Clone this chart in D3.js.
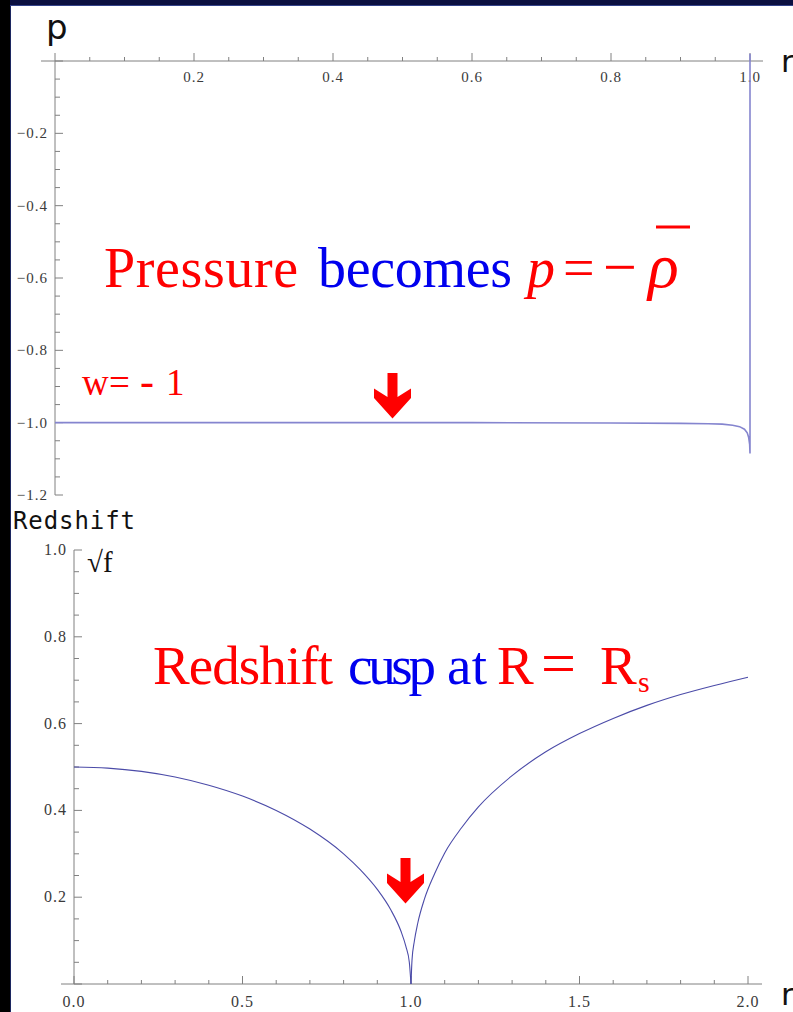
<!DOCTYPE html>
<html>
<head>
<meta charset="utf-8">
<script src="https://cdn.jsdelivr.net/npm/d3@7"></script>
<style>
  body { margin: 0; background: white; }
</style>
</head>
<body>
<div id="chart"></div>
<script>
// pressure curve, top panel (r, p)
const pressureR = [0, 0.2, 0.4, 0.6, 0.8, 0.9, 0.94, 0.96, 0.975, 0.985, 0.992, 0.996, 0.998, 0.9995, 1.0, 1.0]
const pressureP = [-1, -1, -1, -1, -1.001, -1.002, -1.003, -1.004, -1.007, -1.011, -1.018, -1.028, -1.04, -1.06, -1.085, 0.02]

// redshift curve, bottom panel (r, sqrt f), two branches meeting at the cusp
const leftR = [0, 0.1, 0.2, 0.3, 0.4, 0.5, 0.6, 0.7, 0.8, 0.85, 0.9, 0.94, 0.97, 0.985, 0.995, 1.0]
const leftF = [0.5, 0.4975, 0.49, 0.477, 0.458, 0.433, 0.4, 0.357, 0.3, 0.263, 0.218, 0.171, 0.122, 0.086, 0.05, 0]
const rightR = [1.0, 1.003, 1.01, 1.02, 1.04, 1.07, 1.1, 1.15, 1.2, 1.3, 1.4, 1.5, 1.6, 1.7, 1.8, 1.9, 2.0]
const rightF = [0, 0.055, 0.099, 0.14, 0.196, 0.254, 0.302, 0.36, 0.408, 0.48, 0.535, 0.577, 0.612, 0.642, 0.667, 0.688, 0.707]

// ticks
const topXMajor = [0.2, 0.4, 0.6, 0.8, 1.0]
const topYMajor = [-0.2, -0.4, -0.6, -0.8, -1.0, -1.2]
const botXMajor = [0, 0.5, 1.0, 1.5, 2.0]
const botYMajor = [0.2, 0.4, 0.6, 0.8, 1.0]

const width = 793
const height = 1012

const svg = d3
  .select('#chart')
  .append('svg')
  .attr('width', width)
  .attr('height', height)
  .style('display', 'block')

// slide frame
svg.append('rect').attr('x', 0).attr('y', 0).attr('width', width).attr('height', 6).attr('fill', '#0b1040')
svg.append('rect').attr('x', 0).attr('y', 5).attr('width', width).attr('height', 1).attr('fill', '#34438a')
svg.append('rect').attr('x', 0).attr('y', 0).attr('width', 10).attr('height', height).attr('fill', 'black')
svg.append('rect').attr('x', 10).attr('y', 6).attr('width', 1).attr('height', height).attr('fill', '#1c2760')

const axisColor = '#808080'
const labelColor = '#3a3a3a'
const serif = '"Liberation Serif", "DejaVu Serif", serif'

// ---------- top panel ----------
const x1 = d3.scaleLinear().domain([0, 1]).range([55, 750])
const y1 = d3.scaleLinear().domain([0, -1.2]).range([61, 495])

const topG = svg.append('g')

function ticksBetween(lo, hi, step) {
  const out = []
  const n = Math.round((hi - lo) / step)
  for (let i = 0; i <= n; i++) out.push(+(lo + i * step).toFixed(4))
  return out
}

// x axis line + ticks pointing up
topG.append('line')
  .attr('x1', 41).attr('x2', 763)
  .attr('y1', y1(0)).attr('y2', y1(0))
  .attr('stroke', axisColor)

topG.selectAll('.xt')
  .data(ticksBetween(0, 1, 0.05))
  .enter()
  .append('line')
  .attr('x1', d => x1(d)).attr('x2', d => x1(d))
  .attr('y1', y1(0))
  .attr('y2', d => y1(0) - (Math.abs(d * 5 - Math.round(d * 5)) < 1e-6 ? 8 : 4))
  .attr('stroke', axisColor)

topG.selectAll('.xl')
  .data(topXMajor)
  .enter()
  .append('text')
  .attr('x', d => x1(d))
  .attr('y', 82)
  .attr('text-anchor', 'middle')
  .attr('font-family', serif)
  .attr('font-size', 15)
  .attr('letter-spacing', 1)
  .attr('fill', labelColor)
  .text(d => d3.format('.1f')(d))

// y axis line + ticks pointing right
topG.append('line')
  .attr('x1', x1(0)).attr('x2', x1(0))
  .attr('y1', y1(0)).attr('y2', y1(-1.2))
  .attr('stroke', axisColor)

topG.selectAll('.yt')
  .data(ticksBetween(-1.2, 0, 0.05))
  .enter()
  .append('line')
  .attr('x1', x1(0))
  .attr('x2', d => x1(0) + (Math.abs(d * 5 - Math.round(d * 5)) < 1e-6 ? 8 : 5))
  .attr('y1', d => y1(d)).attr('y2', d => y1(d))
  .attr('stroke', axisColor)

topG.selectAll('.yl')
  .data(topYMajor)
  .enter()
  .append('text')
  .attr('x', 48)
  .attr('y', d => y1(d) + 5)
  .attr('text-anchor', 'end')
  .attr('font-family', serif)
  .attr('font-size', 15)
  .attr('letter-spacing', 1)
  .attr('fill', labelColor)
  .text(d => '\u2212' + d3.format('.1f')(-d))

const pressureLine = d3.line()
  .x(d => x1(d[0]))
  .y(d => y1(d[1]))

topG.append('path')
  .datum(d3.zip(pressureR, pressureP))
  .attr('d', pressureLine)
  .attr('fill', 'none')
  .attr('stroke', '#8585cf')
  .attr('stroke-width', 1.6)

topG.append('text')
  .attr('x', 46).attr('y', 39)
  .attr('font-family', '"DejaVu Sans", sans-serif')
  .attr('font-size', 34)
  .attr('fill', '#111')
  .text('p')

topG.append('text')
  .attr('x', 781).attr('y', 72)
  .attr('font-family', '"DejaVu Sans", sans-serif')
  .attr('font-size', 31)
  .attr('fill', '#111')
  .text('r')

// ---------- bottom panel ----------
const x2 = d3.scaleLinear().domain([0, 2]).range([74, 748])
const y2 = d3.scaleLinear().domain([0, 1]).range([984, 550])

const botG = svg.append('g')

botG.append('line')
  .attr('x1', 61).attr('x2', 762)
  .attr('y1', y2(0)).attr('y2', y2(0))
  .attr('stroke', axisColor)

botG.selectAll('.xt')
  .data(ticksBetween(0, 2, 0.1))
  .enter()
  .append('line')
  .attr('x1', d => x2(d)).attr('x2', d => x2(d))
  .attr('y1', y2(0))
  .attr('y2', d => y2(0) - (Math.abs(d * 2 - Math.round(d * 2)) < 1e-6 ? 8 : 4))
  .attr('stroke', axisColor)

botG.selectAll('.xl')
  .data(botXMajor)
  .enter()
  .append('text')
  .attr('x', d => x2(d))
  .attr('y', 1007)
  .attr('text-anchor', 'middle')
  .attr('font-family', serif)
  .attr('font-size', 16)
  .attr('letter-spacing', 1)
  .attr('fill', labelColor)
  .text(d => d3.format('.1f')(d))

botG.append('line')
  .attr('x1', x2(0)).attr('x2', x2(0))
  .attr('y1', y2(0)).attr('y2', y2(1))
  .attr('stroke', axisColor)

botG.selectAll('.yt')
  .data(ticksBetween(0, 1, 0.05))
  .enter()
  .append('line')
  .attr('x1', x2(0))
  .attr('x2', d => x2(0) + (Math.abs(d * 5 - Math.round(d * 5)) < 1e-6 ? 8 : 5))
  .attr('y1', d => y2(d)).attr('y2', d => y2(d))
  .attr('stroke', axisColor)

botG.selectAll('.yl')
  .data(botYMajor)
  .enter()
  .append('text')
  .attr('x', 67)
  .attr('y', d => y2(d) + 5)
  .attr('text-anchor', 'end')
  .attr('font-family', serif)
  .attr('font-size', 16)
  .attr('letter-spacing', 1)
  .attr('fill', labelColor)
  .text(d => d3.format('.1f')(d))

const redshiftLine = d3.line()
  .x(d => x2(d[0]))
  .y(d => y2(d[1]))
  .curve(d3.curveMonotoneX)

botG.selectAll('.branch')
  .data([d3.zip(leftR, leftF), d3.zip(rightR, rightF)])
  .enter()
  .append('path')
  .attr('d', redshiftLine)
  .attr('fill', 'none')
  .attr('stroke', '#4b4ba8')
  .attr('stroke-width', 1.1)

botG.append('text')
  .attr('x', 13).attr('y', 529)
  .attr('font-family', '"DejaVu Sans Mono", monospace')
  .attr('font-size', 24)
  .attr('textLength', 122)
  .attr('fill', '#111')
  .text('Redshift')

botG.append('text')
  .attr('x', 87).attr('y', 572)
  .attr('font-family', serif)
  .attr('font-size', 29)
  .attr('fill', '#111')
  .text('\u221Af')

botG.append('text')
  .attr('x', 781).attr('y', 1005)
  .attr('font-family', '"DejaVu Sans", sans-serif')
  .attr('font-size', 31)
  .attr('fill', '#111')
  .text('r')

// ---------- annotations ----------
const red = '#ff0000'
const blue = '#0000ee'

const t1 = svg.append('text')
  .attr('y', 287)
  .attr('font-family', serif)
  .attr('font-size', 56)
t1.append('tspan').attr('x', 104).attr('fill', red).attr('textLength', 194).text('Pressure')
t1.append('tspan').attr('x', 318).attr('fill', blue).attr('textLength', 194).text('becomes')
t1.append('tspan').attr('x', 527).attr('fill', red).attr('font-style', 'italic').text('p')
t1.append('tspan').attr('x', 563).attr('fill', red).text('=')
t1.append('tspan').attr('x', 603).attr('fill', red).attr('font-size', 60).text('\u2212')
t1.append('tspan').attr('x', 648).attr('fill', red).attr('font-size', 64).attr('font-style', 'italic').text('\u03C1')
svg.append('line')
  .attr('x1', 656).attr('x2', 690)
  .attr('y1', 227).attr('y2', 227)
  .attr('stroke', red)
  .attr('stroke-width', 3)

const w = svg.append('text')
  .attr('y', 395)
  .attr('font-family', serif)
  .attr('font-size', 37)
  .attr('fill', red)
w.append('tspan').attr('x', 82).text('w')
w.append('tspan').attr('x', 109).text('=')
w.append('tspan').attr('x', 140).attr('font-size', 42).text('-')
w.append('tspan').attr('x', 166).text('1')

const t2 = svg.append('text')
  .attr('y', 684)
  .attr('font-family', serif)
  .attr('font-size', 55)
t2.append('tspan').attr('x', 153).attr('fill', red).attr('textLength', 180).text('Redshift')
t2.append('tspan').attr('x', 348).attr('fill', blue).attr('textLength', 88).text('cusp')
t2.append('tspan').attr('x', 447).attr('fill', blue).attr('textLength', 40).text('at')
t2.append('tspan').attr('x', 497).attr('fill', red).text('R')
t2.append('tspan').attr('x', 541).attr('fill', red).attr('font-size', 62).text('=')
t2.append('tspan').attr('x', 600).attr('fill', red).text('R')
t2.append('tspan').attr('x', 638).attr('dy', 8).attr('font-size', 30).attr('fill', red).text('s')

// red block arrows pointing at r = 1 region
const arrowShape = [[-5, 0], [5, 0], [5, 24], [18.5, 15.5], [18.5, 25], [0, 45.5], [-18.5, 25], [-18.5, 15.5], [-5, 24]]
const arrows = [[392.5, 373], [405.5, 858]]

svg.selectAll('.arrow')
  .data(arrows)
  .enter()
  .append('polygon')
  .attr('points', arrowShape.map(p => p.join(',')).join(' '))
  .attr('transform', d => 'translate(' + d[0] + ',' + d[1] + ')')
  .attr('fill', red)
</script>
</body>
</html>
